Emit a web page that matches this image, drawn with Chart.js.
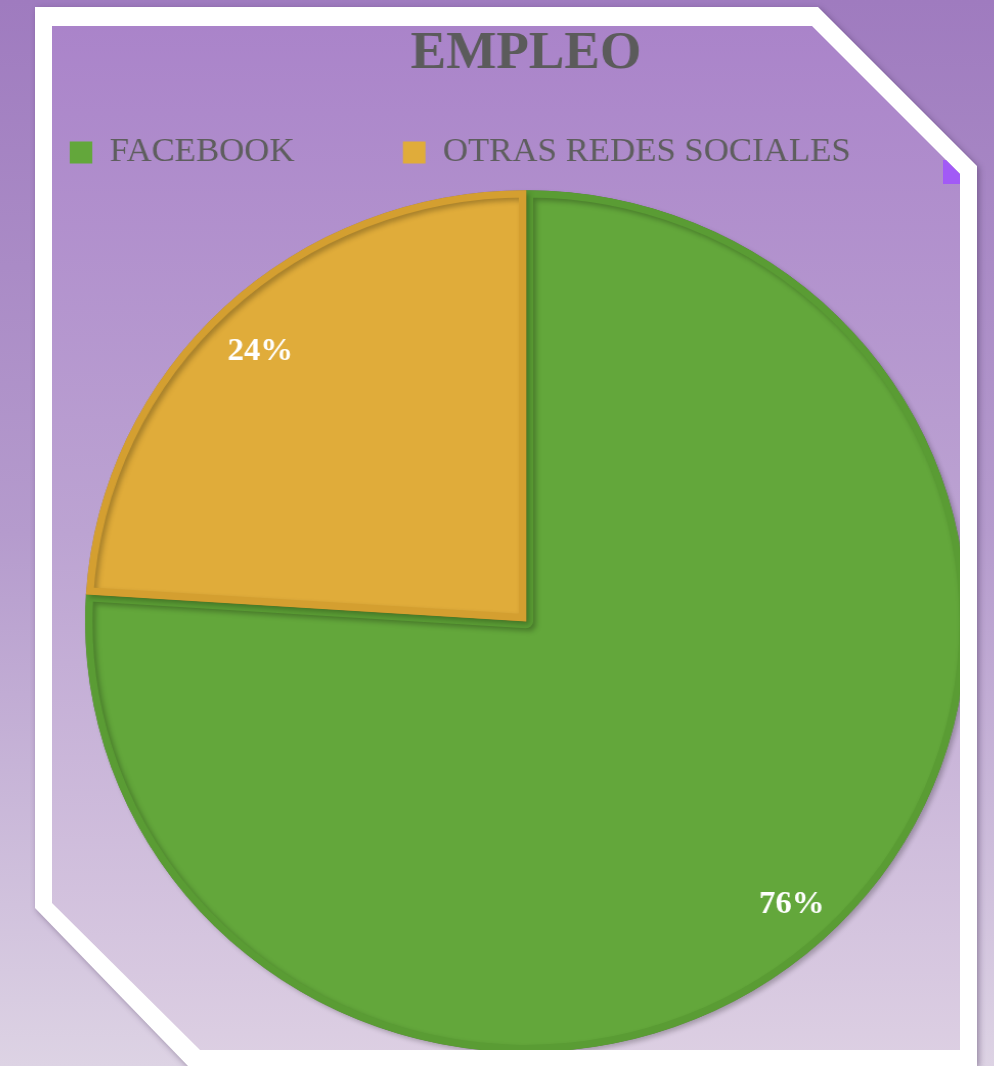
<!DOCTYPE html>
<html>
<head>
<meta charset="utf-8">
<title>EMPLEO</title>
<script src="https://cdn.jsdelivr.net/npm/chart.js@4.4.0/dist/chart.umd.min.js"></script>
<style>
  html, body { margin: 0; padding: 0; width: 994px; height: 1066px; overflow: hidden; }
  body { position: relative; background: linear-gradient(to bottom, #9f7bbf 0%, #b59bcd 50%, #ddd3e4 100%); }
  .frame-wrap { position: absolute; left: 0; top: 0; width: 994px; height: 1066px; filter: drop-shadow(2px 2px 3px rgba(60, 40, 80, 0.45)); }
  .frame { position: absolute; inset: 0; background: #fff; clip-path: polygon(35px 7px, 818px 7px, 977px 166px, 977px 1066px, 188px 1066px, 35px 908px); }
  .inner { position: absolute; inset: 0; background: linear-gradient(to bottom, #a982c9 0%, #bca3d2 50%, #ddd0e3 100%); clip-path: polygon(52px 26px, 812px 26px, 960px 174px, 960px 1050px, 200px 1050px, 52px 903px); }
  .mark { position: absolute; left: 943px; top: 160px; width: 17px; height: 24px; background: #a25af6; }
  /* the original pie is slightly wider than tall */
  canvas { position: absolute; left: -26px; top: 0; transform: scaleX(1.023); transform-origin: 552px 0; }
</style>
</head>
<body>
<div class="frame-wrap">
  <div class="frame"></div>
</div>
<div class="inner">
  <div class="mark"></div>
  <canvas id="chartEmpleo" width="1104" height="1063"></canvas>
</div>

<script>
const categories = ['FACEBOOK', 'OTRAS REDES SOCIALES'];
const shares = [76, 24];
const sliceColors = ['#63a73b', '#e0ac3a'];
const sliceBorders = ['#5a9c34', '#d49f30'];

// percentage labels inside each slice
const pieLabels = {
  id: 'pieLabels',
  afterDatasetsDraw(chart) {
    const { ctx } = chart;
    const meta = chart.getDatasetMeta(0);
    ctx.save();
    ctx.font = "bold 32px 'Liberation Serif', serif";
    ctx.fillStyle = '#ffffff';
    ctx.textAlign = 'center';
    ctx.textBaseline = 'middle';
    meta.data.forEach((arc, i) => {
      const { x, y, startAngle, endAngle, outerRadius } = arc.getProps(
        ['x', 'y', 'startAngle', 'endAngle', 'outerRadius'],
        true
      );
      const mid = (startAngle + endAngle) / 2;
      const r = outerRadius * 0.88;
      ctx.fillText(`${shares[i]}%`, x + Math.cos(mid) * r, y + Math.sin(mid) * r + 7);
    });
    ctx.restore();
  },
};

// soft shadow under the slices
const sliceShadow = {
  id: 'sliceShadow',
  beforeDatasetDraw(chart) {
    const { ctx } = chart;
    ctx.save();
    ctx.shadowColor = 'rgba(0, 0, 0, 0.25)';
    ctx.shadowBlur = 5;
    ctx.shadowOffsetX = 3;
    ctx.shadowOffsetY = 3;
  },
  afterDatasetDraw(chart) {
    chart.ctx.restore();
  },
};

function chartEmpleoInit() {
  const ctx = document.getElementById('chartEmpleo');

  if (ctx) {
    new Chart(ctx, {
      type: 'pie',
      data: {
        labels: categories,
        datasets: [
          {
            data: shares,
            backgroundColor: sliceColors,
            borderColor: sliceBorders,
            borderWidth: 7,
            borderAlign: 'inner',
            radius: 431,
          },
        ],
      },
      options: {
        responsive: false,
        animation: false,
        layout: { padding: 0 },
        plugins: {
          title: {
            display: true,
            text: 'EMPLEO',
            color: '#5b5b5b',
            font: {
              size: 52,
              weight: 'bold',
              family: "'Liberation Serif', serif",
            },
            padding: { top: 23, bottom: -56 },
          },
          legend: {
            position: 'top',
            align: 'start',
            labels: {
              boxWidth: 22,
              boxHeight: 22,
              padding: 106,
              color: '#5e5e5e',
              font: {
                size: 34,
                family: "'Liberation Serif', serif",
              },
              generateLabels: (chart) =>
                Chart.overrides.doughnut.plugins.legend.labels
                  .generateLabels(chart)
                  .map((item) => ({ ...item, lineWidth: 0 })),
            },
          },
          tooltip: { enabled: false },
        },
      },
      plugins: [sliceShadow, pieLabels],
    });
  }
}

chartEmpleoInit();
</script>
</body>
</html>
